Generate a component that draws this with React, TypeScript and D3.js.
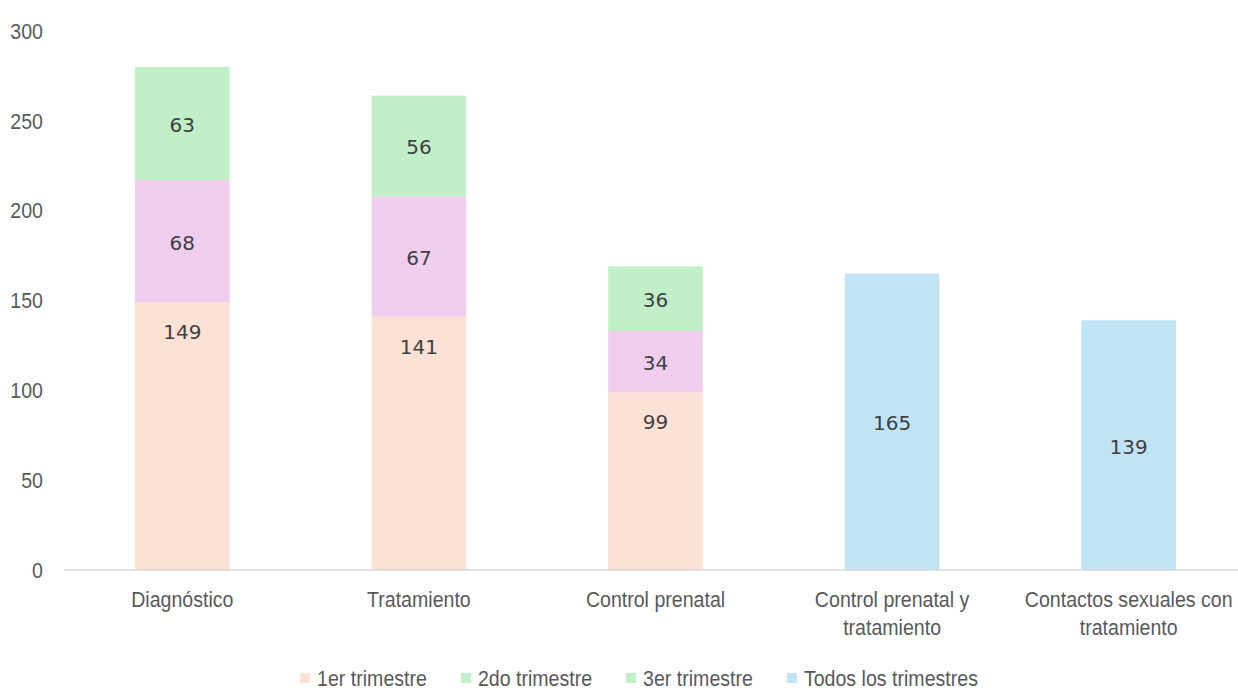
import React, { useEffect, useRef } from "react";
import * as d3 from "d3";

const categories = [
  ["Diagnóstico"],
  ["Tratamiento"],
  ["Control prenatal"],
  ["Control prenatal y", "tratamiento"],
  ["Contactos sexuales con", "tratamiento"],
];
const trim1 = [149, 141, 99, 0, 0];
const trim2 = [68, 67, 34, 0, 0];
const trim3 = [63, 56, 36, 0, 0];
const todos = [0, 0, 0, 165, 139];
const seriesNames = ["1er trimestre", "2do trimestre", "3er trimestre", "Todos los trimestres"];
const seriesColors = ["#FBE2D5", "#F1CEEE", "#C1F0C8", "#C0E4F5"];
const legendColors = ["#FBE2D5", "#C1F0C8", "#C1F0C8", "#C0E4F5"];
const yTicks = [0, 50, 100, 150, 200, 250, 300];

const W = 1238;
const H = 690;
const FONT = "'Liberation Sans', Arial, sans-serif";
const SX = 0.89;

export default function App() {
  const ref = useRef<SVGSVGElement>(null);
  useEffect(() => {
    const svg = d3.select(ref.current);
    svg.selectAll("*").remove();
    const x = d3.scaleBand<number>().domain(d3.range(categories.length)).range([64, 1247]).paddingInner(0.6).paddingOuter(0.3);
    const y = d3.scaleLinear().domain([0, 300]).range([570, 31]);

    const condensed = (parent: any, cx: number, cy: number, anchor: string) =>
      parent.append("g").attr("transform", `translate(${cx},${cy}) scale(${SX},1)`)
        .append("text").attr("x", 0).attr("y", 0).attr("text-anchor", anchor)
        .attr("font-family", FONT).attr("font-size", 22).attr("fill", "#595959");

    // y tick labels
    yTicks.forEach((d) => {
      condensed(svg, 43, y(d), "end").attr("dy", "0.35em").text(d);
    });

    const series = [trim1, trim2, trim3, todos];
    const rows = categories.map((_, i) => ({ i, s0: trim1[i], s1: trim2[i], s2: trim3[i], s3: todos[i] }));
    const stack = d3.stack<any>().keys(["s0", "s1", "s2", "s3"]);
    const stacked = stack(rows);

    stacked.forEach((layer, k) => {
      const g = svg.append("g");
      layer.forEach((seg, i) => {
        const v = series[k][i];
        if (!v) return;
        g.append("rect")
          .attr("x", x(i)!).attr("width", x.bandwidth())
          .attr("y", y(seg[1])).attr("height", y(seg[0]) - y(seg[1]))
          .attr("fill", seriesColors[k]);
        const stackedBar = trim2[i] > 0;
        const labelVal = k === 0 && stackedBar ? seg[1] - 16 : (seg[0] + seg[1]) / 2;
        g.append("text")
          .attr("x", x(i)! + x.bandwidth() / 2).attr("y", y(labelVal)).attr("dy", "0.42em")
          .attr("text-anchor", "middle").attr("font-family", "'DejaVu Sans', sans-serif")
          .attr("font-size", 20).attr("fill", "#404040").text(v);
      });
    });

    // axis line
    svg.append("line").attr("x1", 64).attr("x2", W).attr("y1", y(0)).attr("y2", y(0))
      .attr("stroke", "#D9D9D9").attr("stroke-width", 1.5);

    // category labels
    categories.forEach((lines, i) => {
      lines.forEach((ln, j) => {
        condensed(svg, x(i)! + x.bandwidth() / 2, 607 + j * 28, "middle").text(ln);
      });
    });

    // legend
    const lg = svg.append("g");
    let cx = 0;
    seriesNames.forEach((name, k) => {
      const it = lg.append("g").attr("transform", `translate(${cx},0)`);
      it.append("rect").attr("x", 0).attr("y", 673).attr("width", 10).attr("height", 10).attr("fill", legendColors[k]);
      const tx = condensed(it, 17, 678, "start").attr("dy", "0.35em").text(name);
      const tw = (tx.node() as SVGTextElement).getComputedTextLength() * SX;
      cx += 17 + tw + 34;
    });
    const total = cx - 34;
    lg.attr("transform", `translate(${639 - total / 2},0)`);
  }, []);
  return (
    <svg ref={ref} width={W} height={H} style={{ position: "absolute", left: 0, top: 0, background: "#fff" }} />
  );
}
